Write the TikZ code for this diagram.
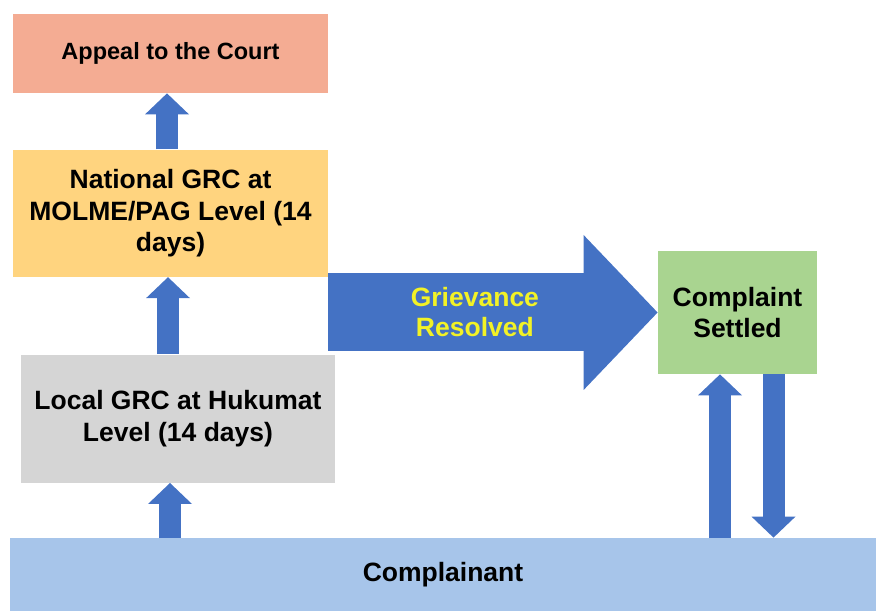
\documentclass[tikz,border=0pt]{standalone}
\usepackage{fontspec}
\setmainfont{Liberation Sans}
\usetikzlibrary{arrows.meta, positioning, calc}
\definecolor{courtred}{HTML}{F4AC93}
\definecolor{nationalgold}{HTML}{FFD47F}
\definecolor{localgrey}{HTML}{D5D5D5}
\definecolor{settledgreen}{HTML}{A9D490}
\definecolor{barblue}{HTML}{A7C5EA}
\definecolor{flowblue}{HTML}{4472C4}
\definecolor{resolvedyellow}{HTML}{F2F226}
\tikzset{
  every picture/.style={line width=0.8pt},
  level/.style={rectangle, inner sep=0pt, align=center, minimum width=315pt,
    font=\fontsize{26.5}{31.5}\selectfont\bfseries},
  flow/.style={flowblue, line width=22pt, -{Triangle[length=21pt, width=44pt, line width=0pt]}},
  bigflow/.style={flowblue, line width=78pt, -{Triangle[length=74pt, width=155pt, line width=0pt]}},
  every label/.append style={font=\footnotesize}
}

\begin{document}
\begin{tikzpicture}[x=1pt, y=1pt]
    \useasboundingbox (0,0) rectangle (876,611);

    \node [level, fill=courtred, minimum height=79pt, font=\fontsize{23.5}{28}\selectfont\bfseries]
      (appeal) at (170.5,557.5) {Appeal to the Court};
    \node [level, fill=nationalgold, minimum height=127pt, below=56pt of appeal]
      (national) {National GRC at\\MOLME/PAG Level (14\\days)};
    \node [level, fill=localgrey, minimum width=314pt, minimum height=128pt, below=77pt of national, xshift=7.5pt]
      (local) {Local GRC at Hukumat\\Level (14 days)};
    \node [level, fill=settledgreen, minimum width=159pt, minimum height=123pt]
      (settled) at (737.5,298.5) {Complaint\\Settled};
    \node [level, fill=barblue, minimum width=866pt, minimum height=73pt]
      (complainant) at (443,36.5) {Complainant};

    \draw([xshift=-8pt]local.south |- complainant.north) edge[flow] ([xshift=-8pt]local.south);
    \draw([xshift=-10pt]local.north) edge[flow] ([xshift=-2.5pt]national.south);
    \draw([xshift=-3.5pt]national.north) edge[flow] ([xshift=-3.5pt]appeal.south);

    \draw(national.east |- settled.west) edge[bigflow]
      node[pos=0.445, align=center, text=resolvedyellow, font=\fontsize{26.5}{30}\selectfont\bfseries]
      {Grievance\\Resolved} (settled.west);

    \draw([xshift=-17.5pt]settled.south |- complainant.north) edge[flow] ([xshift=-17.5pt]settled.south);
    \draw([xshift=36pt]settled.south) edge[flow] ([xshift=36pt]settled.south |- complainant.north);
\end{tikzpicture}
\end{document}
